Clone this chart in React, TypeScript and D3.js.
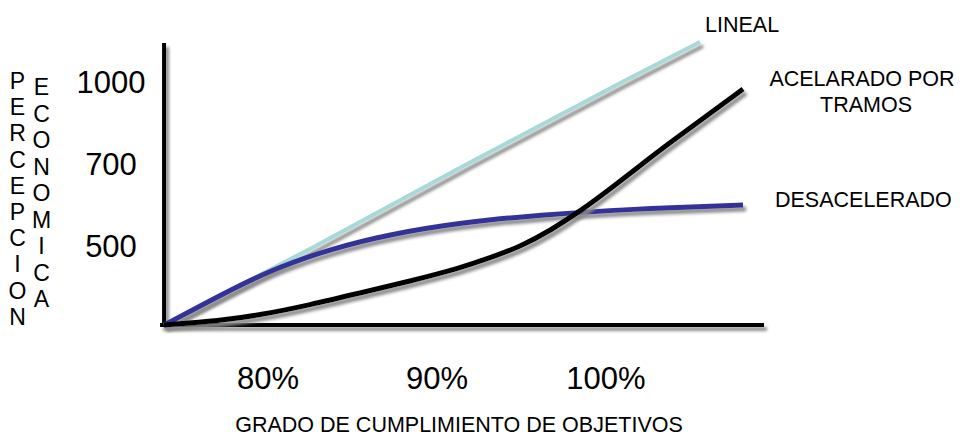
import React from "react";
import * as d3 from "d3";

// percent of objectives reached (x) vs. perceived economic reward (y)
const linealPct = [73.85, 82.81, 91.78, 100.96, 105.56];
const linealVal = [300, 500, 700, 1000, 1146];

const desacelPct = [73.85, 75.98, 78.34, 80.71, 83.67, 87.22, 91.36, 96.09, 101.42, 108.11];
const desacelVal = [300, 348, 401, 448, 492, 529, 557, 576, 590, 600];

const acelPct = [73.85, 77.16, 79.53, 82.49, 85.44, 88.4, 91.36, 93.14, 94.91, 96.69, 98.58, 100.24, 101.83, 103.61, 105.86, 108.11];
const acelVal = [300, 311, 325, 351, 381, 411, 444, 470, 498, 537, 588, 639, 690, 770, 872, 974];

const xTicks = [80, 90, 100];
const xTickLabels = ["80%", "90%", "100%"];
const yTicks = [1000, 700, 500];
const yTickLabels = ["1000", "700", "500"];

const yTitleA = "PERCEPCION";
const yTitleB = "ECONOMICA";
const xTitle = "GRADO DE CUMPLIMIENTO DE OBJETIVOS";

const FONT = "'Liberation Sans', Arial, sans-serif";

export default function App() {
  const width = 966;
  const height = 436;

  const x = d3.scaleLinear().domain([80, 100]).range([268, 606]);
  // the chart's value axis is not evenly spaced, so use a piecewise scale
  const y = d3.scaleLinear().domain([300, 500, 700, 1000]).range([325, 246, 164, 82]);

  const xMin = 73.85;
  const xMax = 109.35;
  const yMin = 300;
  const yMax = 1143;

  const zip = (a: number[], b: number[]) => a.map((v, i) => [v, b[i]] as [number, number]);

  const straight = d3
    .line<[number, number]>()
    .x((d) => x(d[0]))
    .y((d) => y(d[1]))
    .curve(d3.curveLinear);
  const smooth = d3
    .line<[number, number]>()
    .x((d) => x(d[0]))
    .y((d) => y(d[1]))
    .curve(d3.curveBasis);

  return (
    <svg
      width={width}
      height={height}
      style={{ position: "absolute", left: 0, top: 0, background: "#fff" }}
    >
      <defs>
        <filter id="shadow" x="-10%" y="-10%" width="130%" height="130%">
          <feDropShadow dx="3" dy="4" stdDeviation="1.8" floodColor="#8a8a8a" floodOpacity="0.95" />
        </filter>
      </defs>

      {/* axes */}
      <g filter="url(#shadow)">
        <line x1={x(xMin)} x2={x(xMin)} y1={y(yMax)} y2={y(yMin) + 2} stroke="#000" strokeWidth={4} />
        <line x1={x(xMin) - 4} x2={x(xMax)} y1={y(yMin)} y2={y(yMin)} stroke="#000" strokeWidth={4} />
      </g>

      {/* series */}
      <path d={straight(zip(linealPct, linealVal)) || ""} fill="none" stroke="#A8D8D8" strokeWidth={4} filter="url(#shadow)" />
      <path d={smooth(zip(desacelPct, desacelVal)) || ""} fill="none" stroke="#333399" strokeWidth={5} filter="url(#shadow)" />
      <path d={smooth(zip(acelPct, acelVal)) || ""} fill="none" stroke="#000" strokeWidth={5} filter="url(#shadow)" />

      {/* tick labels */}
      <g fontFamily={FONT} fontSize={31} fill="#000">
        {yTicks.map((t, i) => (
          <text key={t} x={111} y={y(t)} textAnchor="middle" dominantBaseline="central">
            {yTickLabels[i]}
          </text>
        ))}
        {xTicks.map((t, i) => (
          <text key={t} x={x(t)} y={389} textAnchor="middle">
            {xTickLabels[i]}
          </text>
        ))}
      </g>

      {/* axis titles */}
      <g fontFamily={FONT} fontSize={23} fill="#000" textAnchor="middle">
        {yTitleA.split("").map((c, i) => (
          <text key={"a" + i} x={17.5} y={89 + i * 26.2}>
            {c}
          </text>
        ))}
        {yTitleB.split("").map((c, i) => (
          <text key={"b" + i} x={41.5} y={95 + i * 26.5}>
            {c}
          </text>
        ))}
      </g>
      <text x={459} y={432} fontFamily={FONT} fontSize={21.5} textAnchor="middle" fill="#000">
        {xTitle}
      </text>

      {/* series labels */}
      <g fontFamily={FONT} fontSize={21.5} fill="#000">
        <text x={705} y={32}>LINEAL</text>
        <text x={862} y={86} textAnchor="middle">ACELARADO POR</text>
        <text x={866} y={112} textAnchor="middle">TRAMOS</text>
        <text x={775} y={207}>DESACELERADO</text>
      </g>
    </svg>
  );
}
